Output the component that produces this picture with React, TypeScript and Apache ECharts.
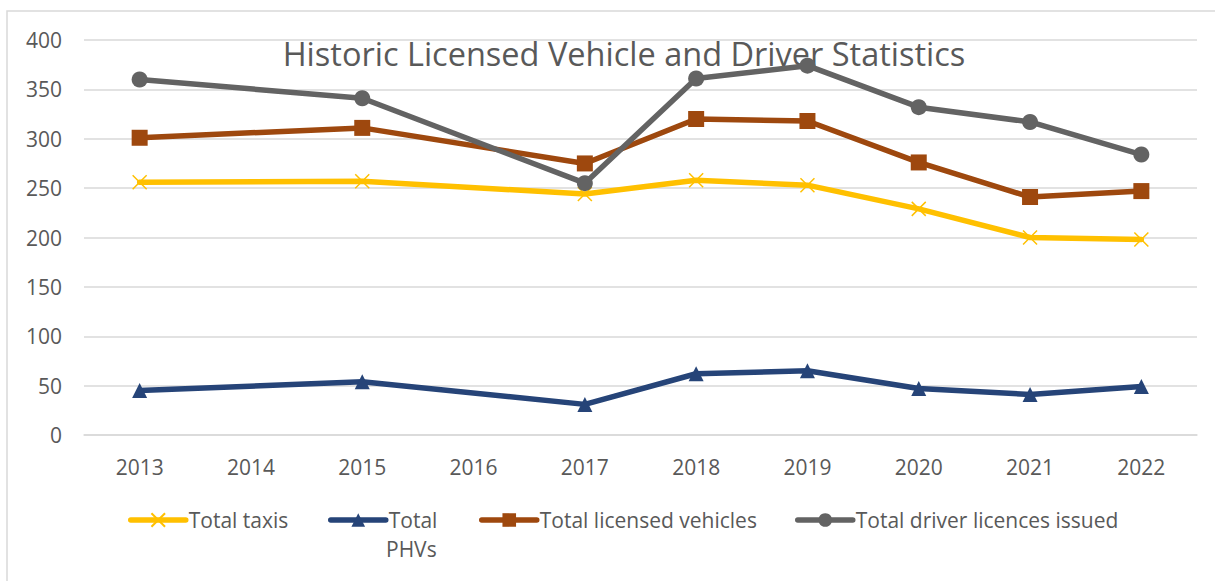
import React, { useEffect, useRef } from "react";
import * as echarts from "echarts";

const years = ["2013", "2014", "2015", "2016", "2017", "2018", "2019", "2020", "2021", "2022"];
const totalTaxis = [256, null, 257, null, 244, 258, 253, 229, 200, 198];
const totalPHVs = [45, null, 54, null, 31, 62, 65, 47, 41, 49];
const totalLicensedVehicles = [301, null, 311, null, 275, 320, 318, 276, 241, 247];
const totalDriverLicences = [360, null, 341, null, 255, 361, 374, 332, 317, 284];
const yTicks = { min: 0, max: 400, interval: 50 };
const titleText = "Historic Licensed Vehicle and Driver Statistics";

const FONT = "'Open Sans', 'Noto Sans', sans-serif";
const TXT = "#595959";

export default function App() {
  const ref = useRef<HTMLDivElement>(null);
  useEffect(() => {
    if (!ref.current) return;
    const chart = echarts.init(ref.current, null, { renderer: "svg" });
    const crossPath = "path://M0,0L10,10M10,0L0,10";
    const mk = (name: string, data: any[], color: string, symbol: string, size: number, extra: any = {}) => ({
      name,
      type: "line",
      data,
      connectNulls: true,
      symbol,
      symbolSize: size,
      lineStyle: { color, width: 5.5, cap: "round", join: "round" },
      itemStyle: { color },
      ...extra,
    });
    const legendBase = {
      top: 504,
      itemWidth: 55,
      itemHeight: 17,
      itemGap: 0,
      lineStyle: { width: 5.5, cap: "round" },
      textStyle: { fontFamily: FONT, fontSize: 21, lineHeight: 22, color: TXT, padding: [0, 0, 0, -2] },
      selectedMode: false,
    };
    chart.setOption({
      animation: false,
      backgroundColor: "#ffffff",
      title: {
        text: titleText,
        left: 619,
        textAlign: "center",
        top: 32,
        z: 0,
        textStyle: { fontFamily: FONT, fontSize: 32.5, fontWeight: "normal", color: TXT },
      },
      graphic: [
        {
          type: "rect",
          shape: { x: 7, y: 11, width: 1400, height: 800 },
          style: { fill: "none", stroke: "#d9d9d9", lineWidth: 1.5 },
          silent: true,
          z: -1,
        },
        {
          type: "text",
          left: 386,
          top: 538,
          style: { text: "PHVs", fontFamily: FONT, fontSize: 21, lineHeight: 22, fill: TXT },
        },
      ],
      legend: [
        { ...legendBase, left: 123, data: ["Total taxis"] },
        { ...legendBase, left: 323, data: ["Total PHVs"], formatter: () => "Total" },
        { ...legendBase, left: 474, data: ["Total licensed vehicles"] },
        { ...legendBase, left: 790, data: ["Total driver licences issued"] },
      ],
      grid: { left: 84, right: 18, top: 40, bottom: 146, containLabel: false },
      xAxis: {
        type: "category",
        data: years,
        boundaryGap: true,
        axisLine: { lineStyle: { color: "#d9d9d9", width: 1.5 } },
        axisTick: { show: false },
        axisLabel: { fontFamily: FONT, fontSize: 21, color: TXT, margin: 21 },
      },
      yAxis: {
        type: "value",
        min: yTicks.min,
        max: yTicks.max,
        interval: yTicks.interval,
        axisLine: { show: false },
        axisTick: { show: false },
        splitLine: { lineStyle: { color: "#d9d9d9", width: 1.5 } },
        axisLabel: { fontFamily: FONT, fontSize: 21, color: TXT, margin: 22 },
      },
      series: [
        mk("Total taxis", totalTaxis, "#FFC000", crossPath, 14, {
          itemStyle: { color: "#FFC000", borderColor: "#FFC000", borderWidth: 1.5 },
        }),
        mk("Total PHVs", totalPHVs, "#264478", "triangle", 15),
        mk("Total licensed vehicles", totalLicensedVehicles, "#9E480E", "rect", 16),
        mk("Total driver licences issued", totalDriverLicences, "#636363", "circle", 16),
      ],
    });
    return () => chart.dispose();
  }, []);
  return (
    <div
      ref={ref}
      style={{ position: "absolute", left: 0, top: 0, width: 1215, height: 581 }}
    />
  );
}
